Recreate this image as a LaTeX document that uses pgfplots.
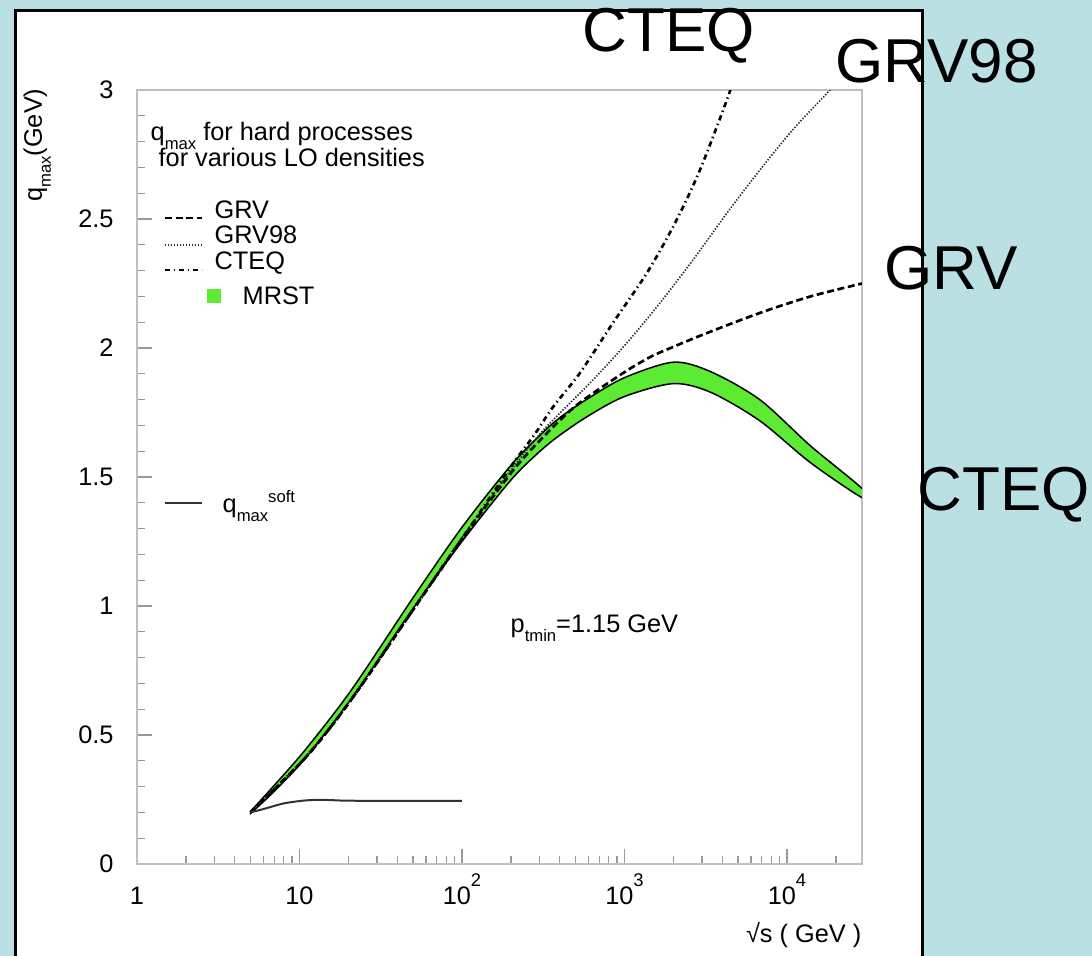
\documentclass[border=0pt]{standalone}
\usepackage{fontspec}
\setmainfont{Liberation Sans}
\usepackage{pgfplots}
\pgfplotsset{compat=1.18}

\definecolor{bgblue}{RGB}{186,224,228}
\definecolor{mrst}{RGB}{92,235,50}
\newcommand{\lbl}{\fontsize{7.6}{9}\selectfont}
\newcommand{\biglbl}{\fontsize{18.6}{22}\selectfont}
\newcommand{\ex}[1]{\raisebox{5.4pt}{\fontsize{5.5}{6}\selectfont #1}}
\newcommand{\sub}[1]{\raisebox{-2.7pt}{\fontsize{5}{6}\selectfont #1}}

\tikzset{
  grv/.style={black, line width=0.8pt, dash pattern=on 2.1pt off 1.1pt},
  grv98/.style={black!85, line width=0.5pt, dash pattern=on 0.4pt off 0.5pt},
  cteq/.style={black, line width=0.8pt, dash pattern=on 1.6pt off 1.1pt on 0.4pt off 1.1pt},
  soft/.style={black!80, line width=0.6pt},
}

% MRST band: upper edge left to right, then lower edge right to left
\pgfplotstableread{
x y
5 0.204
7 0.305
11 0.447
21 0.677
50 1.032
100 1.305
200 1.545
300 1.66
400 1.73
600 1.805
1000 1.885
2000 1.945
3400 1.908
6800 1.80
14000 1.62
29000 1.455
29000 1.42
14000 1.555
6800 1.718
3400 1.828
2000 1.862
1000 1.812
600 1.737
400 1.662
300 1.598
200 1.488
100 1.25
50 0.99
21 0.643
11 0.414
7 0.282
5 0.196
}\band

\begin{document}
\begin{tikzpicture}
\begin{scope}[x=0.3pt,y=-0.3pt,shift={(-137,-864)}]
  \fill[bgblue] (0,0) rectangle (1092,956);
  \filldraw[fill=white, draw=black, line width=0.9pt] (15.5,10.5) rectangle (922.5,990);
\end{scope}

\begin{axis}[
    at={(0,0)}, anchor=south west,
    scale only axis,
    width=217.5pt, height=232.2pt,
    xmode=log,
    xmin=1, xmax=28970,
    ymin=0, ymax=3,
    axis line style={black!25, line width=0.5pt},
    tick style={black!40, line width=0.4pt},
    major tick length=4.5pt, minor tick length=2.3pt,
    tick align=inside,
    xtick pos=left, ytick pos=left,
    xtick={1,10,100,1000,10000},
    xticklabels={1,10,10\ex{2},10\ex{3},10\ex{4}},
    minor xtick={2,3,...,9,20,30,...,90,200,300,...,900,2000,3000,...,9000,20000},
    ytick={0,0.5,1,1.5,2,2.5,3},
    yticklabels={0,0.5,1,1.5,2,2.5,3},
    minor y tick num=4,
    xticklabel style={font=\lbl, anchor=base, yshift=-12.3pt},
    yticklabel style={font=\lbl, anchor=east, xshift=-3.5pt},
]
% MRST
\addplot[fill=mrst, draw=black, line width=0.45pt, smooth] table {\band} -- cycle;

% GRV
\addplot[grv, smooth] coordinates {
  (5,0.2) (11,0.415) (21,0.64) (50,0.985) (100,1.26) (200,1.515) (300,1.64)
  (500,1.775) (982,1.903) (1440,1.965) (1990,2.004) (3220,2.058) (6820,2.136) (14000,2.20) (29000,2.25)
};
% GRV98
\addplot[grv98, smooth] coordinates {
  (5,0.2) (11,0.42) (21,0.645) (50,0.99) (100,1.265) (200,1.525) (300,1.665)
  (401,1.748) (640,1.876) (1036,2.02) (1650,2.174) (2640,2.341) (4275,2.523) (6820,2.69) (11000,2.85) (18400,3.0) (21000,3.05)
};
% CTEQ
\addplot[cteq, smooth] coordinates {
  (5,0.2) (11,0.415) (21,0.64) (50,0.985) (100,1.26) (200,1.54) (280,1.665)
  (363,1.771) (532,1.903) (849,2.097) (1375,2.291) (2046,2.484) (2915,2.69) (4335,2.973) (4700,3.05)
};
% soft
\addplot[soft, smooth] coordinates {
  (5,0.2) (6,0.213) (7,0.225) (8,0.235) (10,0.244) (12,0.248) (15,0.248)
  (18,0.246) (25,0.245) (100,0.245)
};
\end{axis}

\begin{scope}[x=0.3pt,y=-0.3pt,shift={(-137,-864)}]
  % axis titles
  \node[rotate=90, anchor=base east, inner sep=0, font=\lbl] at (42,88) {q\sub{max}(GeV)};
  \node[anchor=base east, inner sep=0, font=\lbl] at (862,943) {√s ( GeV )};
  % legend
  \node[anchor=base west, inner sep=0, font=\lbl] at (150,141) {q\sub{max} for hard processes};
  \node[anchor=base west, inner sep=0, font=\lbl] at (158,167) {for various LO densities};
  \draw[grv] (165,218) -- (202,218);
  \node[anchor=base west, inner sep=0, font=\lbl] at (214,219) {GRV};
  \draw[grv98] (165,245) -- (202,245);
  \node[anchor=base west, inner sep=0, font=\lbl] at (214,244) {GRV98};
  \draw[cteq] (165,270) -- (202,270);
  \node[anchor=base west, inner sep=0, font=\lbl] at (214,270) {CTEQ};
  \fill[mrst] (207,289) rectangle (221,303);
  \node[anchor=base west, inner sep=0, font=\lbl] at (242,305) {MRST};
  \draw[soft] (165,503) -- (202,503);
  \node[anchor=base west, inner sep=0, font=\lbl] at (222,513) {q\sub{max}\raisebox{3.2pt}{\fontsize{5}{6}\selectfont soft}};
  \node[anchor=base west, inner sep=0, font=\lbl] at (510,633) {p\sub{tmin}=1.15 GeV};
  % large curve names
  \node[anchor=base west, inner sep=0, font=\biglbl] at (582,52) {CTEQ};
  \node[anchor=base west, inner sep=0, font=\biglbl] at (835,83) {GRV98};
  \node[anchor=base west, inner sep=0, font=\biglbl] at (884,290) {GRV};
  \node[anchor=base west, inner sep=0, font=\biglbl] at (917,511) {CTEQ};
\end{scope}
\pgfresetboundingbox
\path[use as bounding box] (-41.1pt,-27.6pt) rectangle (286.5pt,259.2pt);
\end{tikzpicture}
\end{document}
